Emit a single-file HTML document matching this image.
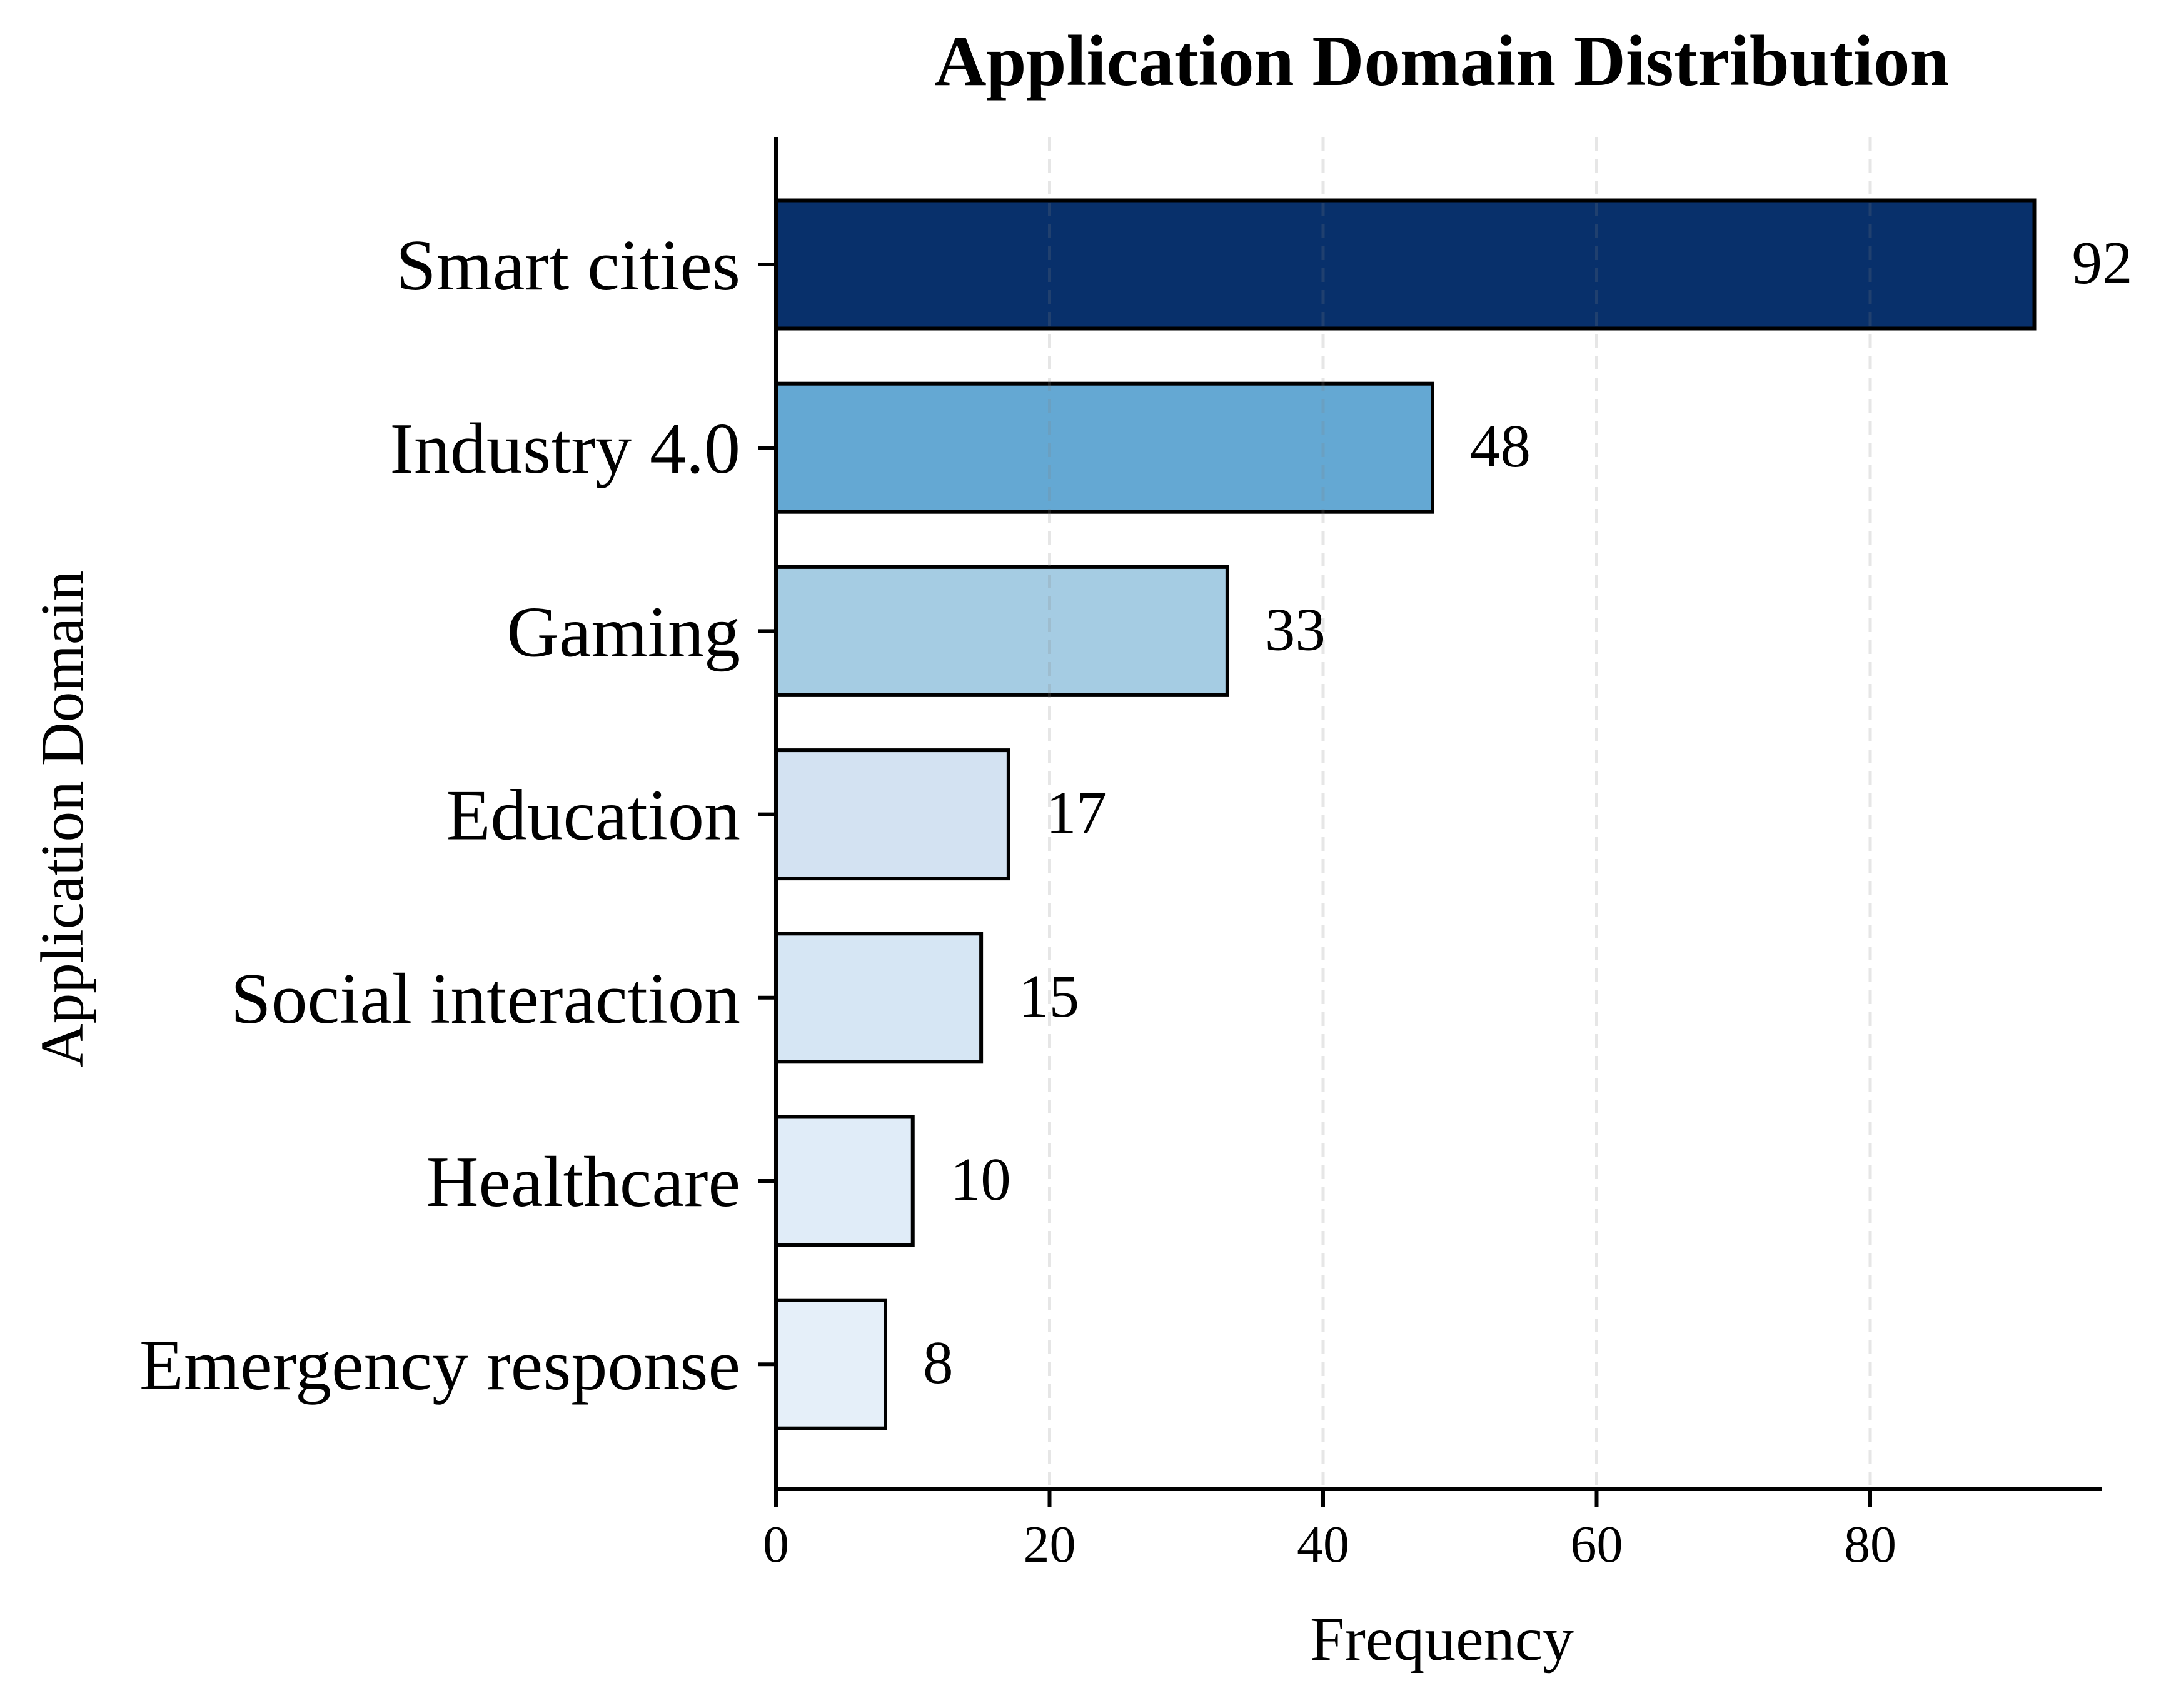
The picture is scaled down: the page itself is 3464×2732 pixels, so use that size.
<!DOCTYPE html>
<html><head><meta charset="utf-8">
<style>html,body{margin:0;padding:0;background:#fff;}svg{display:block;}text{font-family:"Liberation Serif","DejaVu Serif",serif;fill:#000;}</style>
</head><body>
<svg id="chart" width="3464" height="2732" viewBox="0 0 3464 2732" xmlns="http://www.w3.org/2000/svg">
<rect width="3464" height="2732" fill="#fff"/>
<text x="2306" y="136" font-size="115" font-weight="bold" text-anchor="middle">Application Domain Distribution</text>
<text x="2306" y="2655" font-size="100" text-anchor="middle">Frequency</text>
<text transform="translate(132,1310) rotate(-90)" font-size="97" text-anchor="middle">Application Domain</text>
<g id="plot"></g>
</svg>
<script>
const categories = ["Smart cities","Industry 4.0","Gaming","Education","Social interaction","Healthcare","Emergency response"];
const values = [92,48,33,17,15,10,8];
const colors = ["#08306b","#64a8d3","#a5cce3","#d3e2f2","#d6e6f4","#e0ecf8","#e5eff9"];
const xTicks = [0,20,40,60,80];
const xTickLabels = ["0","20","40","60","80"];

const NS="http://www.w3.org/2000/svg";
const x0=1241, unit=21.875, axisRight=3362, yTop=219, yBottom=2382;
const y0=423, pitch=293.2, barH=205;
function xs(v){return x0+v*unit;}
function ys(i){return y0+i*pitch;}
const g=document.getElementById('plot');
function mk(tag,attrs){const e=document.createElementNS(NS,tag);for(const k in attrs)e.setAttribute(k,attrs[k]);g.appendChild(e);return e;}

categories.forEach((c,i)=>{
  const r=mk('rect',{x:xs(0),y:ys(i)-barH/2,width:xs(values[i])-xs(0),height:barH,fill:colors[i],stroke:'#000','stroke-width':6});
  
  
});
xTicks.forEach((t,i)=>{
  if(t>0){
    const gl=mk('line',{x1:xs(t),x2:xs(t),y1:yTop,y2:yBottom,stroke:'#808080','stroke-opacity':0.2,'stroke-width':5,'stroke-dasharray':'22 13'});
    
    
  }
  const tk=mk('line',{x1:xs(t),x2:xs(t),y1:yBottom,y2:yBottom+29,stroke:'#000','stroke-width':6});
  
  
  const tl=mk('text',{x:xs(t),y:2498,'font-size':84,'text-anchor':'middle'});
  tl.textContent=xTickLabels[i];
  
  
});
categories.forEach((c,i)=>{
  const tk=mk('line',{x1:x0-29,x2:x0,y1:ys(i),y2:ys(i),stroke:'#000','stroke-width':6});
  
  
  const tl=mk('text',{x:1184,y:ys(i)+40,'font-size':116,'text-anchor':'end'});
  tl.textContent=c;
  
  
  const vl=mk('text',{x:xs(values[i])+60,y:ys(i)+30,'font-size':97});
  vl.textContent=String(values[i]);
  
  
});
const ly=mk('line',{x1:x0,x2:x0,y1:yTop,y2:yBottom+3,stroke:'#000','stroke-width':6});


const lx=mk('line',{x1:x0-3,x2:axisRight,y1:yBottom,y2:yBottom,stroke:'#000','stroke-width':6});


</script>
</body></html>
